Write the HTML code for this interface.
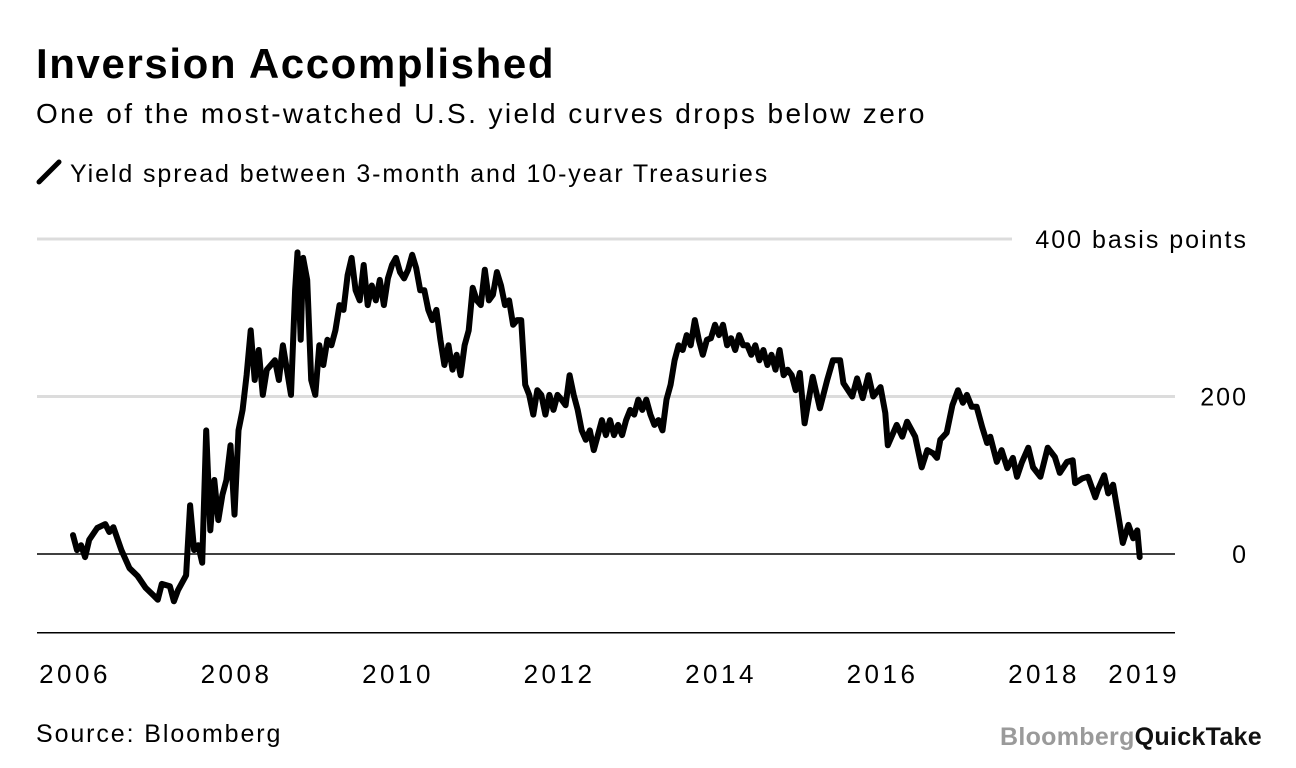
<!DOCTYPE html>
<html><head><meta charset="utf-8"><style>
body{margin:0;background:#fff;font-family:"Liberation Sans",sans-serif;}
#wrap{position:relative;width:1296px;height:768px;overflow:hidden;}
.t{position:absolute;white-space:nowrap;color:#000;}
</style></head><body>
<div id="wrap">
<div class="t" style="left:36px;top:40px;font-size:42px;font-weight:bold;letter-spacing:1.6px;">Inversion Accomplished</div>
<div class="t" style="left:36px;top:98px;font-size:28px;letter-spacing:2.4px;">One of the most-watched U.S. yield curves drops below zero</div>
<div class="t" style="left:36px;top:159px;font-size:25px;letter-spacing:1.9px;"><svg width="26" height="26" style="vertical-align:-3px;margin-right:8px"><line x1="3" y1="23" x2="23" y2="3" stroke="#000" stroke-width="5" stroke-linecap="round"/></svg>Yield spread between 3-month and 10-year Treasuries</div>
<svg id="chart" width="1296" height="768" style="position:absolute;left:0;top:0"></svg>
<div class="t" style="left:36px;top:720px;font-size:25px;letter-spacing:1.9px;">Source: Bloomberg</div>
<div class="t" style="left:1000px;top:723px;font-size:25px;font-weight:bold;letter-spacing:0.3px;"><span style="color:#9a9a9a">Bloomberg</span><span style="color:#111">QuickTake</span></div>
</div>
<script>
const years=[2006.0,2006.05,2006.1,2006.15,2006.2,2006.3,2006.4,2006.45,2006.5,2006.6,2006.7,2006.8,2006.9,2007.0,2007.05,2007.1,2007.2,2007.25,2007.3,2007.4,2007.45,2007.5,2007.55,2007.6,2007.65,2007.7,2007.75,2007.8,2007.85,2007.9,2007.95,2008.0,2008.05,2008.1,2008.15,2008.2,2008.25,2008.3,2008.35,2008.4,2008.5,2008.55,2008.6,2008.7,2008.75,2008.78,2008.82,2008.85,2008.9,2008.95,2009.0,2009.05,2009.1,2009.15,2009.2,2009.25,2009.3,2009.35,2009.4,2009.45,2009.5,2009.55,2009.6,2009.65,2009.7,2009.75,2009.8,2009.85,2009.9,2009.95,2010.0,2010.05,2010.1,2010.15,2010.2,2010.25,2010.3,2010.35,2010.4,2010.45,2010.5,2010.55,2010.6,2010.65,2010.7,2010.75,2010.8,2010.85,2010.9,2010.95,2011.0,2011.05,2011.1,2011.15,2011.2,2011.25,2011.3,2011.35,2011.4,2011.45,2011.5,2011.55,2011.6,2011.65,2011.7,2011.75,2011.8,2011.85,2011.9,2011.95,2012.0,2012.05,2012.1,2012.15,2012.2,2012.25,2012.3,2012.35,2012.4,2012.45,2012.5,2012.55,2012.6,2012.65,2012.7,2012.75,2012.8,2012.85,2012.9,2012.95,2013.0,2013.05,2013.1,2013.15,2013.2,2013.25,2013.3,2013.35,2013.4,2013.45,2013.5,2013.55,2013.6,2013.65,2013.7,2013.75,2013.8,2013.85,2013.9,2013.95,2014.0,2014.05,2014.1,2014.15,2014.2,2014.25,2014.3,2014.35,2014.4,2014.45,2014.5,2014.55,2014.6,2014.65,2014.7,2014.75,2014.8,2014.85,2014.9,2014.95,2015.0,2015.06,2015.16,2015.25,2015.34,2015.41,2015.5,2015.54,2015.65,2015.71,2015.78,2015.85,2015.91,2016.0,2016.06,2016.09,2016.2,2016.27,2016.33,2016.43,2016.51,2016.58,2016.65,2016.7,2016.74,2016.82,2016.89,2016.96,2017.02,2017.07,2017.13,2017.19,2017.26,2017.32,2017.36,2017.44,2017.5,2017.57,2017.64,2017.69,2017.75,2017.83,2017.89,2017.98,2018.07,2018.16,2018.22,2018.31,2018.38,2018.41,2018.5,2018.57,2018.66,2018.69,2018.77,2018.82,2018.88,2018.94,2019.0,2019.07,2019.13,2019.18,2019.21];
const spread=[24,5,11,-4,18,33,38,28,34,5,-18,-28,-43,-53,-58,-38,-41,-60,-46,-27,62,5,11,-11,157,30,94,43,75,94,138,50,157,183,227,284,221,259,202,234,246,221,265,202,335,383,272,376,348,221,202,265,240,272,265,284,316,310,354,376,335,322,367,316,341,322,348,316,350,367,376,358,350,361,380,363,335,335,310,297,310,272,240,265,234,253,227,265,284,338,322,316,361,322,329,358,341,316,322,291,297,297,215,202,177,208,202,177,202,183,202,196,189,227,202,183,157,145,157,132,151,170,151,170,151,164,151,170,183,177,196,183,196,177,164,170,157,196,215,246,265,259,278,265,297,272,253,272,274,291,278,291,265,274,259,278,265,265,253,265,246,259,240,253,234,259,227,234,227,208,230,166,225,185,221,246,246,217,200,223,198,227,200,212,179,138,164,149,168,149,110,132,128,122,145,154,189,208,192,202,187,187,161,141,149,117,132,109,122,98,116,135,110,98,135,123,103,117,119,90,96,98,72,81,100,77,88,52,14,37,20,30,-4];
const yTicks=[0,200,400];
const yTickLabels=["0","200","400 basis points"];
const xTicks=[2006,2008,2010,2012,2014,2016,2018,2019.24];
const xTickLabels=["2006","2008","2010","2012","2014","2016","2018","2019"];
const NS="http://www.w3.org/2000/svg";
const svg=document.getElementById('chart');
const X=yr=>73+(yr-2006)*80.75;
const Y=v=>554-v*0.7875;
function mk(tag,attrs){const e=document.createElementNS(NS,tag);for(const k in attrs)e.setAttribute(k,attrs[k]);svg.appendChild(e);return e;}
yTicks.forEach((v,i)=>{
  if(v!==0){
    const g=mk('line',{x1:37,x2:v===400?1012:1175,y1:Y(v),y2:Y(v),stroke:'#dcdcdc','stroke-width':3});
    
    
  }
  const t=mk('text',{x:1248,y:Y(v)+9,'text-anchor':'end','font-size':25,'letter-spacing':2,'font-family':'Liberation Sans, sans-serif',fill:'#000'});
  t.textContent=yTickLabels[i];
  
  
});
const z=mk('line',{x1:37,x2:1175,y1:Y(0),y2:Y(0),stroke:'#000','stroke-width':1.5});


const ax=mk('line',{x1:37,x2:1175,y1:Y(-100),y2:Y(-100),stroke:'#000','stroke-width':1.5});


xTicks.forEach((yr,i)=>{
  const t=mk('text',{x:X(yr)+2,y:683,'text-anchor':'middle','font-size':26,'letter-spacing':3.5,'font-family':'Liberation Sans, sans-serif',fill:'#000'});
  t.textContent=xTickLabels[i];
  
  
});
let d='';
years.forEach((yr,i)=>{d+=(i?'L':'M')+X(yr).toFixed(1)+','+Y(spread[i]).toFixed(1);});
const p=mk('path',{d:d,fill:'none',stroke:'#000','stroke-width':6,'stroke-linejoin':'round','stroke-linecap':'round'});


</script>
</body></html>
